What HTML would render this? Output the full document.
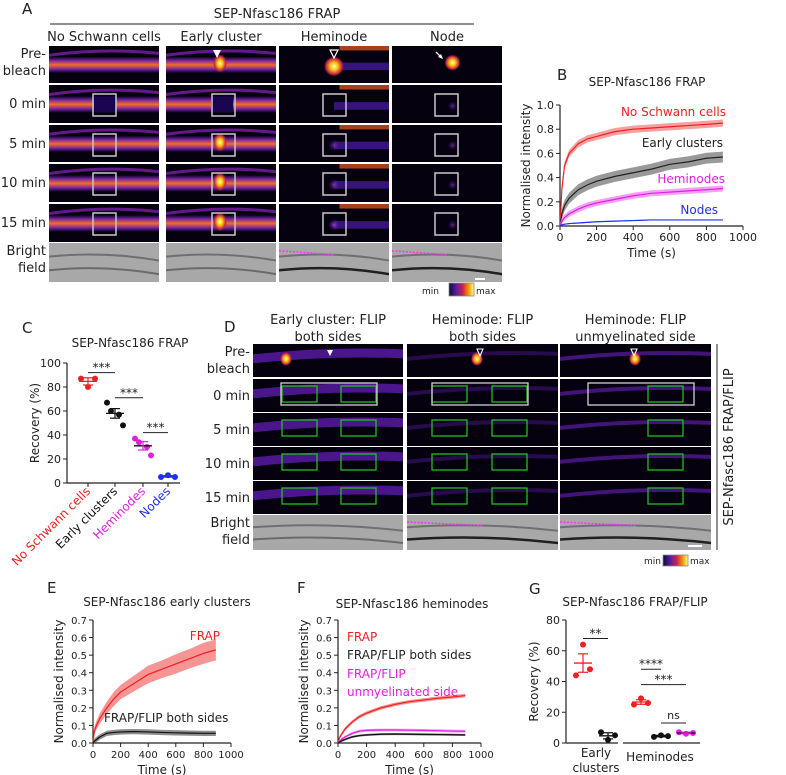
<!DOCTYPE html>
<html><head><meta charset="utf-8">
<style>
html,body{margin:0;padding:0;background:#fff;}
svg{display:block;font-family:"DejaVu Sans","Liberation Sans",sans-serif;}
</style></head>
<body>
<svg id="fig" width="786" height="775" viewBox="0 0 786 775" xmlns="http://www.w3.org/2000/svg">
<defs>
<linearGradient id="cbar" x1="0" x2="1" y1="0" y2="0">
<stop offset="0" stop-color="#0a0a40"/><stop offset="0.3" stop-color="#5a1fa0"/><stop offset="0.55" stop-color="#d0204a"/><stop offset="0.8" stop-color="#f5a000"/><stop offset="1" stop-color="#ffffa0"/>
</linearGradient>
<linearGradient id="axon" x1="0" x2="0" y1="0" y2="1">
<stop offset="0" stop-color="#5a1fb0" stop-opacity="0.2"/><stop offset="0.25" stop-color="#8a2aa0"/><stop offset="0.5" stop-color="#f07020"/><stop offset="0.75" stop-color="#8a2aa0"/><stop offset="1" stop-color="#5a1fb0" stop-opacity="0.2"/>
</linearGradient>
<radialGradient id="spot"><stop offset="0" stop-color="#ffffd0"/><stop offset="0.4" stop-color="#ffc000"/><stop offset="0.8" stop-color="#c02050"/><stop offset="1" stop-color="#c02050" stop-opacity="0"/></radialGradient>
<radialGradient id="dimspot"><stop offset="0" stop-color="#a040c0"/><stop offset="1" stop-color="#3010a0" stop-opacity="0"/></radialGradient>
</defs>
<g id="layer"></g>
</svg>
<script>
const NS="http://www.w3.org/2000/svg";
const root=document.getElementById('layer');
function el(tag,attrs,parent,txt){const e=document.createElementNS(NS,tag);for(const k in attrs)e.setAttribute(k,attrs[k]);if(txt!==undefined)e.textContent=txt;(parent||root).appendChild(e);return e;}
function txt(x,y,s,size,anchor,fill,parent,extra){const t=el('text',Object.assign({x:x,y:y,'font-size':size||12,'text-anchor':anchor||'middle',fill:fill||'#222'},extra||{}),parent,s);return t;}

// ---------- Data: panel B ----------
const timesB=[0,10,25,50,100,150,200,300,400,500,600,700,800,890];
const bNoSchwann=[0,0.3,0.5,0.6,0.68,0.72,0.74,0.78,0.8,0.81,0.82,0.83,0.84,0.85];
const bEarly=[0,0.1,0.17,0.23,0.3,0.34,0.37,0.41,0.44,0.47,0.51,0.53,0.56,0.57];
const bHemi=[0,0.04,0.07,0.1,0.14,0.17,0.19,0.22,0.25,0.27,0.28,0.29,0.3,0.31];
const bNodes=[0,0.01,0.015,0.02,0.025,0.03,0.035,0.04,0.045,0.05,0.05,0.05,0.05,0.05];
const bErr=[0.03,0.045,0.025,0.004];
// ---------- Data: panel E ----------
const eFrap=[0,0.07,0.1,0.14,0.2,0.25,0.29,0.34,0.39,0.42,0.45,0.48,0.51,0.53];
const eFrapErr=[0,0.02,0.025,0.03,0.035,0.04,0.04,0.045,0.05,0.05,0.055,0.055,0.06,0.06];
const eFlip=[0,0.01,0.02,0.035,0.055,0.06,0.063,0.065,0.063,0.06,0.058,0.056,0.055,0.055];
// ---------- Data: panel F ----------
const fFrap=[0,0.03,0.05,0.08,0.12,0.15,0.17,0.2,0.22,0.235,0.245,0.255,0.262,0.27];
const fUnmy=[0,0.01,0.02,0.035,0.055,0.068,0.072,0.074,0.074,0.073,0.072,0.07,0.068,0.067];
const fBoth=[0,0.005,0.012,0.02,0.035,0.042,0.046,0.05,0.051,0.05,0.049,0.048,0.047,0.046];
// ---------- Data: panel C ----------
const cCats=["No Schwann cells","Early clusters","Heminodes","Nodes"];
const cPoints=[[87,80,87],[67,60,57,48],[37,34,30,23],[5,6.5,5]];
const cSem=[3,4,3.5,0.6];
const cSig=[92,71,42];
// ---------- Data: panel G ----------
const gPoints=[[44,64,48],[7,2,5],[25,29,26],[4,5,4.5],[7,6,6.5]];
const gSem=[6,2,1.5,0.5,0.5];
const gSig=[[0,1,68,"**"],[2,3,48,"****"],[2,4,38,"***"],[3,4,13,"ns"]];

// ---------- microscopy helpers ----------
function micro(x,y,w,h,kind,name,opts){
  const g=el('g',{});
  
  
  el('rect',{x:x,y:y,width:w,height:h,fill:'#05010f'},g);
  const cp='c'+Math.round(x)+'_'+Math.round(y);
  const cl=el('clipPath',{id:cp},g);el('rect',{x:x,y:y,width:w,height:h},cl);
  const c=el('g',{'clip-path':'url(#'+cp+')'},g);
  opts=opts||{};
  if(kind==='bright'){
    el('rect',{x:x,y:y,width:w,height:h,fill:'#a8a8a8'},c);
    el('path',{d:`M${x} ${y+h*0.35} Q${x+w/2} ${y+h*0.2} ${x+w} ${y+h*0.45}`,stroke:'#707070','stroke-width':2,fill:'none'},c);
    el('path',{d:`M${x} ${y+h*0.7} Q${x+w/2} ${y+h*0.55} ${x+w} ${y+h*0.8}`,stroke:opts.dark?'#202020':'#6a6a6a','stroke-width':opts.dark?2.5:2,fill:'none'},c);
    if(opts.mag) el('path',{d:`M${x} ${y+h*0.2} L${x+w*0.5} ${y+h*0.3}`,stroke:'#ff30ff','stroke-width':1.5,'stroke-dasharray':'2,1.5',fill:'none'},c);
  } else if(kind==='axon'){
    const b=opts.bright||1;
    el('path',{d:`M${x} ${y+h*0.25} Q${x+w*0.5} ${y+h*0.05} ${x+w} ${y+h*0.2}`,stroke:'#7a1fa8','stroke-width':3,fill:'none',opacity:0.8},c);
    el('rect',{x:x,y:y+h*0.3,width:w,height:h*0.42,fill:'url(#axon)',opacity:b},c);
    if(opts.gap) el('rect',{x:x+opts.gap[0],y:y+h*0.3,width:opts.gap[1],height:h*0.42,fill:'#1a0550'},c);
    if(opts.spot) el('ellipse',{cx:x+opts.spot,cy:y+h*0.47,rx:7,ry:9,fill:'url(#spot)'},c);
  } else if(kind==='hemi'){
    el('rect',{x:x+w*0.5,y:y+h*0.45,width:w*0.5,height:h*0.2,fill:'#5a20c0',opacity:0.6},c);
    el('rect',{x:x+w*0.55,y:y,width:w*0.45,height:h*0.12,fill:'#d05020',opacity:0.8},c);
    if(opts.spot==='big') el('ellipse',{cx:x+w*0.5,cy:y+h*0.55,rx:10,ry:10,fill:'url(#spot)'},c);
    else if(opts.spot) el('ellipse',{cx:x+w*0.5,cy:y+h*0.55,rx:6,ry:6,fill:'url(#dimspot)',opacity:opts.spot},c);
  } else if(kind==='node'){
    if(opts.spot==='big') el('ellipse',{cx:x+w*0.55,cy:y+h*0.45,rx:8,ry:8,fill:'url(#spot)'},c);
    else el('ellipse',{cx:x+w*0.55,cy:y+h*0.55,rx:5,ry:5,fill:'url(#dimspot)',opacity:0.6},c);
  } else if(kind==='dflip'){
    el('path',{d:`M${x} ${y+h*0.45} Q${x+w*0.5} ${y+h*0.2} ${x+w} ${y+h*0.3}`,stroke:'#6a20c0','stroke-width':opts.w||5,fill:'none',opacity:opts.o||0.7},c);
    if(opts.spot) el('ellipse',{cx:x+opts.spot,cy:y+h*0.45,rx:6,ry:7,fill:'url(#spot)'},c);
  }
  return g;
}
function box(x,y,w,h,col,name,sw){const r=el('rect',{x:x,y:y,width:w,height:h,fill:'none',stroke:col,'stroke-width':sw||1.5});return r;}

// ---------- Panel A ----------
txt(22,14,'A',15,'start');
txt(277,18,'SEP-Nfasc186 FRAP',13);
el('line',{x1:50,y1:24,x2:474,y2:24,stroke:'#222','stroke-width':1});
const aCols=[[49,110,'No Schwann cells','axon'],[166,110,'Early cluster','axon'],[279,110,'Heminode','hemi'],[392,110,'Node','node']];
const aRows=[[46,37],[85,38],[125,37],[164,38],[204,38],[243,39]];
const aRowLabels=[['Pre-','bleach'],['0 min'],['5 min'],['10 min'],['15 min'],['Bright','field']];
aRowLabels.forEach((l,i)=>{const r=aRows[i];if(l.length===2){txt(46,r[0]+12,l[0],13,'end');txt(46,r[0]+29,l[1],13,'end');}else txt(46,r[0]+23,l[0],13,'end');});
aCols.forEach((c,ci)=>{
  txt(c[0]+c[1]/2,41,c[2],13);
  aRows.forEach((r,ri)=>{
    const nm='panel-a-image-'+ci+'-'+ri;
    if(ri===5){micro(c[0],r[0],c[1],r[1],'bright',nm,{dark:ci>=2,mag:ci>=2});return;}
    if(c[3]==='axon'){
      const o={};
      if(ci===1&&ri!==1)o.spot=54;
      if(ri===1)o.gap=[45,22];
      micro(c[0],r[0],c[1],r[1],'axon',nm,o);
    } else if(c[3]==='hemi'){
      micro(c[0],r[0],c[1],r[1],'hemi',nm,{spot:ri===0?'big':(ri===1?0:0.4+0.15*ri)});
    } else micro(c[0],r[0],c[1],r[1],'node',nm,{spot:ri===0?'big':'dim'});
    if(ri>=1){const bx=[93,212,323,435][ci];box(bx,r[0]+9,23,22,'#c8c8c8','panel-a-bleach-box');}
  });
});
el('path',{d:'M213 50 L221 50 L217 58 Z',fill:'#fff'});
el('path',{d:'M330 50 L338 50 L334 58 Z',fill:'none',stroke:'#fff','stroke-width':1.2});
el('path',{d:'M436 52 L442 58',stroke:'#fff','stroke-width':1.3});
el('path',{d:'M443 59 L438 57 L441 54 Z',fill:'#fff'});
el('rect',{x:475,y:278,width:10,height:2,fill:'#fff'});
txt(439,294,'min',9,'end');
el('rect',{x:449,y:283,width:25,height:13,fill:'url(#cbar)',stroke:'#888','stroke-width':0.8});
txt(476,294,'max',9,'start');

// ---------- line plot helper ----------
function linePlot(cfg){
  const g=el('g',{});
  
  
  const sx=v=>cfg.x0+(v-0)/(cfg.xmax)*(cfg.x1-cfg.x0);
  const sy=v=>cfg.yb-(v/cfg.ymax)*(cfg.yb-cfg.yt);
  const ya=el('line',{x1:cfg.x0,y1:cfg.yt,x2:cfg.x0,y2:cfg.yb,stroke:'#222','stroke-width':1.2},g);
  
  
  const xa=el('line',{x1:cfg.x0,y1:cfg.yb,x2:cfg.x1,y2:cfg.yb,stroke:'#222','stroke-width':1.2},g);
  
  
  cfg.yticks.forEach(v=>{el('line',{x1:cfg.x0-4,y1:sy(v),x2:cfg.x0,y2:sy(v),stroke:'#222'},g);txt(cfg.x0-6,sy(v)+4,v.toFixed(1),cfg.fs,'end','#222',g);});
  cfg.xticks.forEach(v=>{el('line',{x1:sx(v),y1:cfg.yb,x2:sx(v),y2:cfg.yb+4,stroke:'#222'},g);txt(sx(v),cfg.yb+15,String(v),cfg.fs,'middle','#222',g);});
  const xl=txt((cfg.x0+cfg.x1)/2-(cfg.xlShift||0),cfg.yb+31,'Time (s)',12,'middle','#222',g);
  
  const yl=txt(0,0,'Normalised intensity',12,'middle','#222',g,{transform:`translate(${cfg.x0-30},${(cfg.yt+cfg.yb)/2}) rotate(-90)`});
  
  cfg.series.forEach(s=>{
    const up=s.v.map((v,i)=>[sx(cfg.t[i]),sy(v+(Array.isArray(s.e)?s.e[i]:s.e))]);
    const dn=s.v.map((v,i)=>[sx(cfg.t[i]),sy(Math.max(0,v-(Array.isArray(s.e)?s.e[i]:s.e)))]);
    const band=el('path',{d:'M'+up.map(p=>p.join(' ')).join(' L')+' L'+dn.reverse().map(p=>p.join(' ')).join(' L')+'Z',fill:s.band,opacity:0.75},g);
    
    
    const line=el('path',{d:'M'+s.v.map((v,i)=>sx(cfg.t[i])+' '+sy(v)).join(' L'),fill:'none',stroke:s.col,'stroke-width':1.2},g);
    
    
  });
  return {sx,sy,g};
}

// ---------- Panel B ----------
txt(557,80,'B',15,'start');
txt(647,86,'SEP-Nfasc186 FRAP',12);
linePlot({name:'panel-b-chart',x0:560,x1:743,yt:105,yb:226,xmax:1000,ymax:1.0,t:timesB,fs:11,
  yticks:[0,0.2,0.4,0.6,0.8,1.0],xticks:[0,200,400,600,800,1000],
  series:[{name:'no-schwann',v:bNoSchwann,e:bErr[0],col:'#ee2020',band:'#f48080'},
          {name:'early-clusters',v:bEarly,e:bErr[1],col:'#222',band:'#777'},
          {name:'heminodes',v:bHemi,e:bErr[2],col:'#e020e0',band:'#f080f0'},
          {name:'nodes',v:bNodes,e:bErr[3],col:'#2030ee',band:'#6070ff'}]});
txt(726,116,'No Schwann cells',12,'end','#ee2020');
txt(723,147,'Early clusters',12,'end','#222');
txt(725,183,'Heminodes',12,'end','#e020e0');
txt(718,214,'Nodes',12,'end','#2030ee');

// ---------- dot plot helper ----------
function dotPlot(cfg){
  const g=el('g',{});
  
  
  const sy=v=>cfg.yb-(v/cfg.ymax)*(cfg.yb-cfg.yt);
  const ya=el('line',{x1:cfg.x0,y1:cfg.yt,x2:cfg.x0,y2:cfg.yb,stroke:'#222','stroke-width':1.2},g);
  
  
  cfg.xsegs.forEach(s=>{const l=el('line',{x1:s[0],y1:cfg.yb,x2:s[1],y2:cfg.yb,stroke:'#222','stroke-width':1.2},g);});
  cfg.yticks.forEach(v=>{el('line',{x1:cfg.x0-4,y1:sy(v),x2:cfg.x0,y2:sy(v),stroke:'#222'},g);txt(cfg.x0-6,sy(v)+4,String(v),11,'end','#222',g);});
  const yl=txt(0,0,'Recovery (%)',12,'middle','#222',g,{transform:`translate(${cfg.x0-28},${(cfg.yt+cfg.yb)/2}) rotate(-90)`});
  
  cfg.points.forEach((pts,i)=>{
    const cx=cfg.xs[i],col=cfg.cols[i];
    if(cfg.tick) el('line',{x1:cx,y1:cfg.yb,x2:cx,y2:cfg.yb+4,stroke:'#222'},g);
    const mean=pts.reduce((a,b)=>a+b,0)/pts.length;
    const jit=pts.length===4?[-8,-4,4,8]:[-7,0,7];
    pts.forEach((v,k)=>{const d=el('circle',{cx:cx+jit[k],cy:sy(v),r:3,fill:col},g);});
    const m=el('line',{x1:cx-9,y1:sy(mean),x2:cx+9,y2:sy(mean),stroke:cfg.meanCol(i),'stroke-width':1.3},g);
    
    
    el('line',{x1:cx,y1:sy(mean-cfg.sem[i]),x2:cx,y2:sy(mean+cfg.sem[i]),stroke:col,'stroke-width':1.2},g);
    el('line',{x1:cx-5,y1:sy(mean+cfg.sem[i]),x2:cx+5,y2:sy(mean+cfg.sem[i]),stroke:col,'stroke-width':1.2},g);
    el('line',{x1:cx-5,y1:sy(mean-cfg.sem[i]),x2:cx+5,y2:sy(mean-cfg.sem[i]),stroke:col,'stroke-width':1.2},g);
  });
  cfg.sig.forEach(s=>{
    const l=el('line',{x1:cfg.xs[s[0]],y1:sy(s[2]),x2:cfg.xs[s[1]],y2:sy(s[2]),stroke:'#222','stroke-width':1},g);
    
    
    txt((cfg.xs[s[0]]+cfg.xs[s[1]])/2,sy(s[2])-(s[3]==='ns'?4:1),s[3],s[3]==='ns'?11:12,'middle','#222',g);
  });
  return {sy,g};
}

// ---------- Panel C ----------
txt(22,333,'C',15,'start');
txt(130,347,'SEP-Nfasc186 FRAP',12);
const cCols=['#ee2020','#111','#e020e0','#2030ee'];
dotPlot({name:'panel-c-chart',x0:67,yt:363,yb:483,ymax:100,xs:[88,115,143,168],xsegs:[[67,180]],tick:true,
  yticks:[0,20,40,60,80,100],points:cPoints,sem:cSem,cols:cCols,meanCol:i=>i===1?'#111':(i===2?'#111':cCols[i]),
  sig:[[0,1,cSig[0],'***'],[1,2,cSig[1],'***'],[2,3,cSig[2],'***']]});
cCats.forEach((c,i)=>{const t=txt(0,0,c,12,'end',cCols[i],null,{transform:`translate(${[88,115,143,168][i]+3},${492}) rotate(-45)`});});

// ---------- Panel D ----------
txt(224,332,'D',15,'start');
const dCols=[[253,150,'Early cluster: FLIP','both sides'],[407,151,'Heminode: FLIP','both sides'],[560,151,'Heminode: FLIP','unmyelinated side']];
const dRows=[[344,33],[379,33],[413,33],[447,33],[481,33],[515,35]];
const dLabels=[['Pre-','bleach'],['0 min'],['5 min'],['10 min'],['15 min'],['Bright','field']];
dLabels.forEach((l,i)=>{const r=dRows[i];if(l.length===2){txt(250,r[0]+12,l[0],13,'end');txt(250,r[0]+29,l[1],13,'end');}else txt(250,r[0]+21,l[0],13,'end');});
const dGreen=[[282,341],[432,492],[648]];
const dWhite=[[281,96],[432,96],[588,106]];
dCols.forEach((c,ci)=>{
  txt(c[0]+c[1]/2,324,c[2],13);txt(c[0]+c[1]/2,341,c[3],13);
  dRows.forEach((r,ri)=>{
    const nm='panel-d-image-'+ci+'-'+ri;
    if(ri===5){micro(c[0],r[0],c[1],r[1],'bright',nm,{dark:ci>=1,mag:ci>=1});return;}
    const o={w:ci===0?9:4,o:ci===0?0.7:(ci===1?0.35:0.6)};
    if(ri===0)o.spot=[33,70,75][ci];
    micro(c[0],r[0],c[1],r[1],'dflip',nm,o);
    if(ri>=1){dGreen[ci].forEach(gx=>box(gx,r[0]+7,35,16,'#20c020','panel-d-flip-box',1.3));}
    if(ri===1){box(dWhite[ci][0],r[0]+4,dWhite[ci][1],22,'#d0d0d0','panel-d-bleach-box',1.3);}
  });
});
el('path',{d:'M327 350 L333 350 L330 356 Z',fill:'#fff'});
el('path',{d:'M477 349 L483 349 L480 356 Z',fill:'none',stroke:'#fff','stroke-width':1.1});
el('path',{d:'M631 349 L637 349 L634 356 Z',fill:'none',stroke:'#fff','stroke-width':1.1});
el('line',{x1:717,y1:344,x2:717,y2:550,stroke:'#222','stroke-width':1});
txt(0,0,'SEP-Nfasc186 FRAP/FLIP',13,'middle','#222',null,{transform:'translate(733,447) rotate(-90)'});
el('rect',{x:688,y:545,width:14,height:2,fill:'#fff'});
txt(661,564,'min',9,'end');
el('rect',{x:663,y:555,width:25,height:11,fill:'url(#cbar)',stroke:'#888','stroke-width':0.8});
txt(690,564,'max',9,'start');

// ---------- Panel E ----------
txt(47,593,'E',15,'start');
txt(167,606,'SEP-Nfasc186 early clusters',12);
linePlot({name:'panel-e-chart',x0:93,x1:231,yt:620,yb:743,xmax:1000,ymax:0.7,t:timesB,fs:10,
  yticks:[0,0.1,0.2,0.3,0.4,0.5,0.6,0.7],xticks:[0,200,400,600,800,1000],
  series:[{name:'frap',v:eFrap,e:eFrapErr,col:'#ee2020',band:'#f47070'},
          {name:'frap-flip-both',v:eFlip,e:0.015,col:'#111',band:'#666'}]});
txt(220,640,'FRAP',12,'end','#ee2020');
txt(104,722,'FRAP/FLIP both sides',12,'start','#222');

// ---------- Panel F ----------
txt(297,593,'F',15,'start');
txt(412,608,'SEP-Nfasc186 heminodes',12);
linePlot({name:'panel-f-chart',x0:338,x1:481,yt:620,yb:743,xmax:1000,ymax:0.7,t:timesB,fs:10,
  yticks:[0,0.1,0.2,0.3,0.4,0.5,0.6,0.7],xticks:[0,200,400,600,800,1000],
  series:[{name:'frap',v:fFrap,e:0.01,col:'#ee2020',band:'#f47070'},
          {name:'frap-flip-unmyelinated',v:fUnmy,e:0.008,col:'#e020e0',band:'#f080f0'},
          {name:'frap-flip-both',v:fBoth,e:0.006,col:'#111',band:'#555'}]});
txt(347,641,'FRAP',12,'start','#ee2020');
txt(347,659,'FRAP/FLIP both sides',12,'start','#222');
txt(347,678,'FRAP/FLIP',12,'start','#e020e0');
txt(347,696,'unmyelinated side',12,'start','#e020e0');

// ---------- Panel G ----------
txt(529,594,'G',15,'start');
txt(635,606,'SEP-Nfasc186 FRAP/FLIP',12);
const gCols=['#ee2020','#111','#ee2020','#111','#e020e0'];
dotPlot({name:'panel-g-chart',x0:566,yt:620,yb:743,ymax:80,xs:[583,608,641,661,686],xsegs:[[566,618],[623,700]],tick:false,
  yticks:[0,20,40,60,80],points:gPoints,sem:gSem,cols:gCols,meanCol:i=>i===4?'#111':gCols[i],sig:gSig});
txt(596,757,'Early',12);txt(596,772,'clusters',12);
txt(660,761,'Heminodes',12);
</script>
</body></html>
